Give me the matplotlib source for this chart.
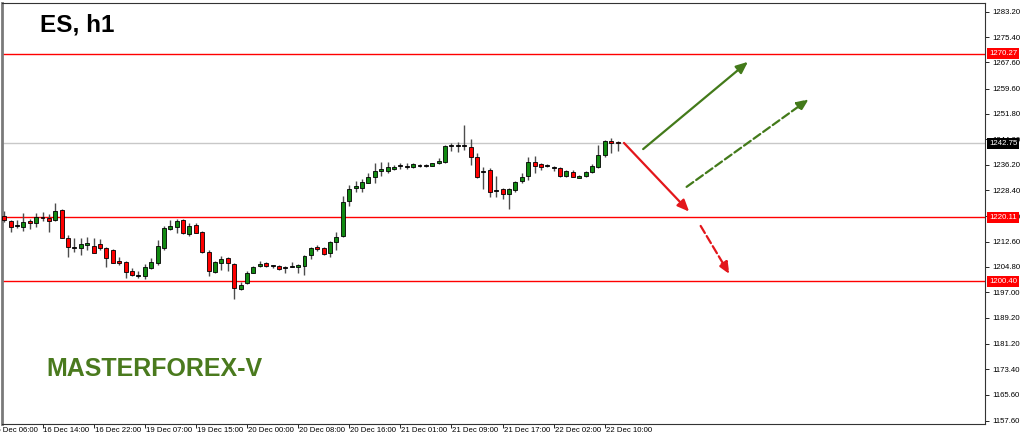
import matplotlib
matplotlib.use("Agg")
import matplotlib.pyplot as plt
import matplotlib.transforms as mtransforms
import numpy as np

# hourly OHLC (ES, h1)
opens = [1220.5, 1219.0, 1217.6, 1217.2, 1219.0, 1218.4, 1220.1, 1219.9, 1219.2, 1222.3,
         1213.6, 1210.8, 1210.7, 1211.5, 1211.3, 1211.8, 1210.7, 1210.0, 1206.6, 1206.3,
         1203.5, 1202.1, 1202.1, 1204.4, 1206.1, 1210.7, 1216.4, 1217.0, 1219.2, 1214.9,
         1217.7, 1215.4, 1209.5, 1203.3, 1206.1, 1207.5, 1205.6, 1197.9, 1199.8, 1203.0,
         1205.1, 1205.9, 1205.2, 1205.1, 1204.5, 1204.8, 1204.8, 1205.1, 1208.5, 1211.0,
         1210.5, 1209.0, 1212.6, 1214.3, 1225.1, 1229.0, 1229.1, 1230.7, 1232.3, 1234.4,
         1234.4, 1234.9, 1235.8, 1235.6, 1235.4, 1235.9, 1235.9, 1235.9, 1236.6, 1237.0,
         1242.0, 1242.0, 1242.1, 1241.6, 1238.5, 1234.0, 1234.6, 1228.1, 1228.6, 1227.2,
         1228.4, 1231.2, 1232.7, 1236.9, 1236.4, 1235.9, 1235.3, 1235.1, 1232.7, 1234.1,
         1232.2, 1232.7, 1233.9, 1235.6, 1239.2, 1243.5, 1243.3]
highs = [1222.0, 1219.2, 1219.2, 1221.5, 1219.5, 1221.3, 1221.6, 1221.0, 1224.4, 1222.5,
         1214.6, 1213.6, 1213.6, 1213.9, 1213.8, 1213.3, 1211.0, 1210.2, 1208.0, 1206.6,
         1204.4, 1203.7, 1205.7, 1207.5, 1213.1, 1217.4, 1219.2, 1219.4, 1219.4, 1218.2,
         1218.2, 1215.9, 1210.0, 1206.6, 1208.2, 1208.0, 1205.9, 1200.3, 1203.7, 1205.1,
         1206.6, 1206.2, 1205.4, 1205.4, 1205.1, 1206.2, 1205.6, 1208.5, 1211.0, 1211.5,
         1211.0, 1212.9, 1215.6, 1226.6, 1230.0, 1231.2, 1231.7, 1233.6, 1236.6, 1237.1,
         1237.1, 1236.1, 1236.6, 1236.6, 1236.6, 1236.3, 1236.3, 1236.8, 1238.2, 1242.3,
         1243.0, 1243.3, 1248.4, 1244.0, 1239.7, 1235.6, 1235.1, 1232.7, 1229.0, 1229.0,
         1231.3, 1233.8, 1238.7, 1239.0, 1236.8, 1236.3, 1235.9, 1235.4, 1234.6, 1234.6,
         1233.0, 1234.4, 1236.3, 1242.3, 1243.8, 1244.3, 1243.5]
lows = [1218.7, 1215.6, 1216.7, 1215.9, 1216.5, 1217.0, 1219.0, 1215.6, 1219.0, 1213.6,
        1208.0, 1209.5, 1208.5, 1210.0, 1209.0, 1210.0, 1204.9, 1205.9, 1205.4, 1201.5,
        1202.0, 1201.3, 1201.0, 1204.1, 1205.4, 1210.0, 1216.2, 1215.1, 1214.8, 1214.3,
        1215.1, 1209.0, 1202.0, 1203.0, 1203.9, 1203.7, 1195.0, 1197.7, 1199.6, 1202.9,
        1204.9, 1204.7, 1204.6, 1203.9, 1202.9, 1204.7, 1202.9, 1202.2, 1207.2, 1209.8,
        1208.5, 1207.8, 1210.0, 1213.9, 1223.5, 1227.9, 1227.9, 1230.5, 1230.7, 1232.7,
        1233.8, 1234.6, 1234.8, 1234.8, 1235.1, 1235.6, 1235.6, 1235.8, 1236.3, 1236.6,
        1240.5, 1240.2, 1240.7, 1236.1, 1232.0, 1228.6, 1226.4, 1226.4, 1225.7, 1222.5,
        1227.9, 1230.7, 1231.5, 1233.6, 1234.6, 1235.4, 1234.4, 1232.5, 1232.5, 1232.3,
        1232.0, 1232.3, 1233.6, 1235.1, 1238.7, 1239.9, 1240.5]
closes = [1219.1, 1217.2, 1217.3, 1218.7, 1218.2, 1220.1, 1219.7, 1219.0, 1222.0, 1213.8,
          1210.8, 1210.7, 1211.8, 1212.1, 1209.2, 1210.5, 1207.6, 1206.1, 1205.9, 1203.2,
          1202.3, 1202.0, 1204.7, 1206.4, 1211.2, 1216.7, 1217.4, 1219.0, 1215.1, 1217.4,
          1215.3, 1209.5, 1203.6, 1206.2, 1207.2, 1205.9, 1198.2, 1199.3, 1203.0, 1204.7,
          1205.7, 1205.1, 1205.0, 1204.1, 1204.6, 1205.1, 1205.3, 1208.3, 1210.7, 1210.2,
          1208.7, 1212.6, 1214.1, 1224.8, 1228.7, 1229.7, 1231.0, 1232.3, 1234.4, 1234.9,
          1235.6, 1235.4, 1235.9, 1235.6, 1236.3, 1235.9, 1236.0, 1236.6, 1237.4, 1242.0,
          1242.0, 1242.1, 1242.0, 1238.5, 1232.5, 1234.0, 1227.9, 1228.1, 1227.1, 1228.6,
          1231.0, 1232.5, 1237.1, 1235.9, 1235.6, 1235.9, 1235.5, 1232.7, 1234.3, 1232.5,
          1232.8, 1234.1, 1235.9, 1239.2, 1243.5, 1243.0, 1242.75]

time_labels = ["16 Dec 06:00", "16 Dec 14:00", "16 Dec 22:00", "19 Dec 07:00", "19 Dec 15:00",
               "20 Dec 00:00", "20 Dec 08:00", "20 Dec 16:00", "21 Dec 01:00", "21 Dec 09:00",
               "21 Dec 17:00", "22 Dec 02:00", "22 Dec 10:00"]
time_label_bars = [-2, 6, 14, 22, 30, 38, 46, 54, 62, 70, 78, 86, 94]

levels = [1270.27, 1220.11, 1200.40]
bid = 1242.75
price_ticks = [1157.60, 1165.60, 1173.40, 1181.20, 1189.20, 1197.00, 1204.80, 1212.60,
               1220.40, 1228.40, 1236.20, 1244.00, 1251.80, 1259.60, 1267.60, 1275.40, 1283.20]

# forecast arrows: (bar, price) start -> end
arrows = [
    ((100.0, 1241.0), (116.4, 1267.8), "#437a1a", "-"),
    ((106.8, 1229.4), (125.9, 1256.3), "#437a1a", "--"),
    ((97.0, 1242.9), (107.2, 1221.8), "#e3161b", "-"),
    ((109.0, 1217.4), (113.5, 1202.6), "#e3161b", "--"),
]

BULL = "#118a11"
BEAR = "#ff0000"
SCALE_FONT = dict(fontsize=5.6, family="Liberation Sans")

fig = plt.figure(figsize=(10.24, 4.38), dpi=100)
ax = fig.add_axes([2 / 1024, 14 / 438, 983 / 1024, 421 / 438])

o = np.array(opens)
h = np.array(highs)
l = np.array(lows)
c = np.array(closes)
x = np.arange(len(o))

ax.vlines(x, l, h, color="#4d4d4d", lw=1.0, zorder=2)
bottoms = np.minimum(o, c)
heights = np.maximum(np.abs(c - o), 0.25)
cols = [BULL if cc > oo else BEAR for oo, cc in zip(o, c)]
cols = [col if abs(cc - oo) > 0.3 else "black" for col, oo, cc in zip(cols, o, c)]
ax.bar(x, heights, bottom=bottoms, width=0.62, color=cols, edgecolor="black",
       linewidth=0.6, zorder=3)

# horizontal levels
for lv in levels:
    ax.axhline(lv, color="#ff0000", lw=1.0, zorder=1)
ax.axhline(bid, color="#c8c8c8", lw=1.0, zorder=1)

for (x0, y0), (x1, y1), col, ls in arrows:
    ax.annotate("", xy=(x1, y1), xytext=(x0, y0),
                arrowprops=dict(arrowstyle="-|>,head_length=0.7,head_width=0.3",
                                color=col, lw=1.6, linestyle=ls, shrinkA=0, shrinkB=0),
                zorder=4)

ax.set_xlim(-0.34, 153.5)
ax.set_ylim(1156.57, 1285.87)

# price scale on the right
ax.yaxis.tick_right()
ax.set_yticks(price_ticks)
ax.set_yticklabels([f"{p:.2f}" for p in price_ticks], **SCALE_FONT)
ax.tick_params(axis="y", length=3, width=0.6, pad=2, colors="black")

ytrans = ax.get_yaxis_transform()
for lv in levels:
    ax.text(1.004, lv, f"{lv:.2f}", transform=ytrans, color="white",
            va="center", ha="left", zorder=10, clip_on=False,
            bbox=dict(boxstyle="square,pad=0.25", fc="#ff0000", ec="none"), **SCALE_FONT)
ax.text(1.004, bid, f"{bid:.2f}", transform=ytrans, color="white",
        va="center", ha="left", zorder=10, clip_on=False,
        bbox=dict(boxstyle="square,pad=0.25", fc="black", ec="none"), **SCALE_FONT)

# time scale
ax.set_xticks([b for b in time_label_bars if b >= 0])
ax.set_xticklabels([])
ax.tick_params(axis="x", length=3, width=0.6)
xtrans = mtransforms.blended_transform_factory(ax.transData, ax.transAxes)
for b, lab in zip(time_label_bars, time_labels):
    ax.text(b + 0.15, -0.006, lab, transform=xtrans, va="top", ha="left",
            clip_on=False, **SCALE_FONT)

for side in ["top", "right", "bottom"]:
    ax.spines[side].set_color("#333333")
    ax.spines[side].set_linewidth(0.8)
ax.spines["left"].set_color("#7a7a7a")
ax.spines["left"].set_linewidth(2.0)

fig.text(40 / 1024, 1 - 25 / 438, "ES, h1", fontsize=17.5, fontweight="bold",
         family="Liberation Sans", va="center", ha="left")
fig.text(46 / 1024, 1 - 369 / 438, "MASTERFOREX-V", fontsize=18, fontweight="bold",
         family="Liberation Sans", color="#4a7a1e", va="center", ha="left")

fig.savefig("out.png", dpi=100)
